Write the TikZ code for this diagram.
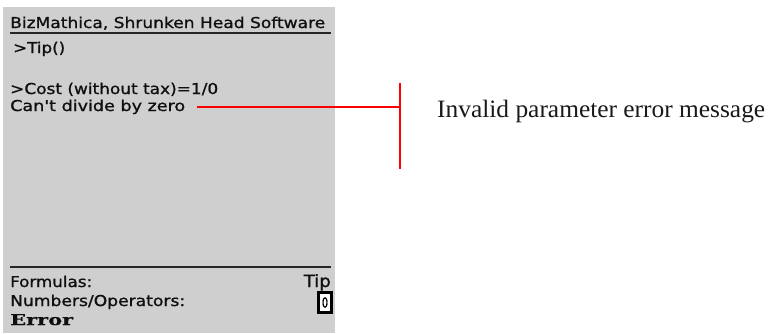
\documentclass[tikz,border=0pt]{standalone}
\usepackage{fontspec}
\usepackage{graphicx}
\newfontface\screenfont{DejaVu Sans Condensed}[FakeBold=0.9]
\newfontface\screenbold{DejaVu Serif Bold}[FakeBold=0.6]
\newfontfamily\notefont{Liberation Serif}
\definecolor{screengray}{RGB}{207,207,207}
\definecolor{screenink}{RGB}{15,15,15}
\definecolor{calloutred}{RGB}{255,0,0}
% set a line of screen text to a given width, keeping its height
\newcommand{\fitw}[2]{\resizebox{#1}{\height}{#2}}
\tikzset{
  scrtext/.style={inner sep=0pt, text=screenink, font=\screenfont\fontsize{15}{15}\selectfont},
  errtext/.style={inner sep=0pt, text=screenink, font=\screenbold\fontsize{15}{15}\selectfont},
  rule/.style={draw=screenink!90!white, line width=2pt},
  callout/.style={draw=calloutred, line width=1.6pt},
  notetext/.style={inner sep=0pt, text=black!90, font=\notefont\fontsize{25}{25}\selectfont}
}
\begin{document}
\begin{tikzpicture}[x=1pt,y=-1pt]
\useasboundingbox (0,0) rectangle (769,333);
% device screen
\fill[screengray] (3,7) rectangle (335,333);
\node[scrtext, anchor=base west] (title) at (10,28) {\fitw{315pt}{BizMathica, Shrunken Head Software}};
\coordinate (topL) at (10,33);
\coordinate (topR) at (331,33);
\draw[rule] (topL) -- (topR);
\node[scrtext, anchor=base west] (tip) at (13,53) {\fitw{52pt}{>Tip()}};
\node[scrtext, anchor=base west] (cost) at (10,94) {\fitw{208pt}{>Cost (without tax)=1/0}};
\node[scrtext, anchor=base west] (cant) at (10,111) {\fitw{175pt}{Can't divide by zero}};
% status area
\coordinate (botL) at (10,267);
\coordinate (botR) at (331,267);
\draw[rule] (botL) -- (botR);
\node[scrtext, anchor=base west] (formulas) at (10,287) {\fitw{82pt}{Formulas:}};
\node[scrtext, anchor=base east, font=\screenfont\fontsize{17}{17}\selectfont] (tipmode) at (331,287) {\fitw{27pt}{Tip}};
\node[scrtext, anchor=base west] (numbers) at (10,306) {\fitw{175pt}{Numbers/Operators:}};
\node[errtext, anchor=base west] (error) at (10,325) {\fitw{63pt}{Error}};
% input cursor
\node[draw=black, line width=2.6pt, fill=white, inner sep=0pt, minimum width=13pt, minimum height=20pt,
      font=\screenfont\fontsize{14}{14}\selectfont] (cursor) at (325,302.5) {\fitw{6pt}{0}};
% callout
\coordinate (brk) at (400,107);
\coordinate (brktop) at (400,83);
\coordinate (brkbot) at (400,169);
\draw[callout] ([xshift=12pt]cant.east |- brk) -- (brk);
\draw[callout] (brktop) -- (brkbot);
\node[notetext, anchor=base west] (note) at (437,117) {\fitw{328pt}{Invalid parameter error message}};
\end{tikzpicture}
\end{document}
